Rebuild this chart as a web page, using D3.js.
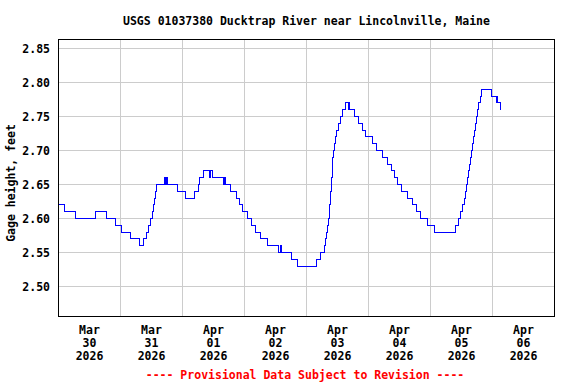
<!DOCTYPE html>
<html>
<head>
<meta charset="utf-8">
<script src="https://cdn.jsdelivr.net/npm/d3@7"></script>
<style>
  html, body { margin: 0; padding: 0; background: #ffffff; }
  svg { display: block; }
  text { font-family: "DejaVu Sans Mono", "Liberation Mono", monospace; font-weight: bold; }
</style>
</head>
<body>
<script>
// ---- data ----
const title = "USGS 01037380 Ducktrap River near Lincolnville, Maine";
const yLabel = "Gage height, feet";
const footer = "---- Provisional Data Subject to Revision ----";
const startDate = "2026-03-30T00:00:00";
const nDays = 8;
const yTicks = [2.50, 2.55, 2.60, 2.65, 2.70, 2.75, 2.80, 2.85];
const monthNames = ["Jan","Feb","Mar","Apr","May","Jun","Jul","Aug","Sep","Oct","Nov","Dec"];
// hours since 2026-03-30 00:00 at which the reading changes, and the reading (ft)
const hours = [
  0, 2.25, 6.75, 14.5, 18.5, 22, 24.25, 27.75, 31.5, 32.75,
  34, 35, 35.75, 36.25, 36.75, 37.25, 37.5, 38, 41, 41.5,
  41.75, 42.25, 46, 49, 52.5, 54.25, 54.75, 56, 58.5, 59,
  59.5, 63.75, 64.25, 64.5, 66.5, 68.75, 70, 71.25, 73, 74.75,
  76.25, 78, 80.75, 85.25, 85.75, 86.5, 90, 92.5, 99.75, 101.5,
  103, 103.25, 103.75, 104, 104.5, 104.75, 104.9, 105.1, 105.35, 105.6,
  105.75, 106, 106.15, 106.25, 106.5, 106.75, 107.15, 107.8, 108.45, 109,
  109.75, 111, 112.2, 112.5, 112.75, 114.5, 116.25, 117.75, 118.75, 121.5,
  123.25, 125.25, 127.25, 129, 130, 131.25, 132.75, 135.25, 137, 138.5,
  140.25, 142.75, 145.5, 153.5, 154.75, 155.75, 156.5, 157.25, 157.5, 158.08,
  158.47, 158.85, 159.24, 159.63, 160.01, 160.28, 160.59, 160.98, 161.29, 161.67,
  162.14, 162.72, 163.22, 163.88, 167.63, 169.55, 169.8, 169.95, 171.1
];
const gage = [
  2.62, 2.61, 2.60, 2.61, 2.60, 2.59, 2.58, 2.57, 2.56, 2.57,
  2.58, 2.59, 2.60, 2.61, 2.62, 2.63, 2.64, 2.65, 2.66, 2.65,
  2.66, 2.65, 2.64, 2.63, 2.64, 2.65, 2.66, 2.67, 2.66, 2.67,
  2.66, 2.65, 2.66, 2.65, 2.64, 2.63, 2.62, 2.61, 2.60, 2.59,
  2.58, 2.57, 2.56, 2.55, 2.56, 2.55, 2.54, 2.53, 2.54, 2.55,
  2.56, 2.57, 2.58, 2.59, 2.60, 2.61, 2.62, 2.63, 2.64, 2.65,
  2.66, 2.67, 2.68, 2.69, 2.70, 2.71, 2.72, 2.73, 2.74, 2.75,
  2.76, 2.77, 2.76, 2.77, 2.76, 2.75, 2.74, 2.73, 2.72, 2.71,
  2.70, 2.69, 2.68, 2.67, 2.66, 2.65, 2.64, 2.63, 2.62, 2.61,
  2.60, 2.59, 2.58, 2.59, 2.60, 2.61, 2.62, 2.63, 2.64, 2.65,
  2.66, 2.67, 2.68, 2.69, 2.70, 2.71, 2.72, 2.73, 2.74, 2.75,
  2.76, 2.77, 2.78, 2.79, 2.78, 2.77, 2.78, 2.77, 2.76
];

// ---- layout ----
const W = 576, H = 384;
const pL = 58.5, pR = 554.5, pT = 39.5, pB = 316.5;

const t0 = new Date(startDate);
const tEnd = d3.timeDay.offset(t0, nDays);
const x = d3.scaleTime().domain([t0, tEnd]).range([pL, pR]);
const y = d3.scaleLinear().domain([2.50, 2.85]).range([286.5, 48.5]);

const data = hours.map((h, i) => ({ t: new Date(t0.getTime() + h * 3600e3), v: gage[i] }));

const svg = d3.select("body").append("svg").attr("width", W).attr("height", H);

// gridlines
const dayTicks = d3.timeDay.range(d3.timeDay.offset(t0, 1), tEnd);
svg.append("g").selectAll("line").data(dayTicks).join("line")
  .attr("x1", d => Math.round(x(d) - 0.5) + 0.5).attr("x2", d => Math.round(x(d) - 0.5) + 0.5)
  .attr("y1", pT).attr("y2", pB)
  .attr("stroke", "#cccccc").attr("stroke-width", 1);
svg.append("g").selectAll("line").data(yTicks).join("line")
  .attr("x1", pL).attr("x2", pR)
  .attr("y1", d => Math.round(y(d) - 0.5) + 0.5).attr("y2", d => Math.round(y(d) - 0.5) + 0.5)
  .attr("stroke", "#cccccc").attr("stroke-width", 1);

// data line
const line = d3.line().x(d => x(d.t)).y(d => y(d.v)).curve(d3.curveStepAfter);
svg.append("path").datum(data)
  .attr("d", line)
  .attr("fill", "none").attr("stroke", "#0000ff").attr("stroke-width", 1)
  .attr("shape-rendering", "crispEdges");

// frame
svg.append("rect").attr("x", pL).attr("y", pT)
  .attr("width", pR - pL).attr("height", pB - pT)
  .attr("fill", "none").attr("stroke", "#000000").attr("stroke-width", 1)
  .attr("shape-rendering", "crispEdges");

// y tick labels
svg.append("g").selectAll("text").data(yTicks).join("text")
  .attr("x", 50).attr("y", d => y(d) + 4)
  .attr("text-anchor", "end").attr("font-size", "11.5px").attr("fill", "#000")
  .text(d3.format(".2f"));

// x labels (centered at noon of each day)
const days = d3.timeDay.range(t0, tEnd);
const xl = svg.append("g").selectAll("text").data(days).join("text")
  .attr("text-anchor", "middle").attr("font-size", "11.5px").attr("fill", "#000");
xl.each(function(d) {
  const cx = x(d3.timeHour.offset(d, 12));
  const sel = d3.select(this);
  const lines = [monthNames[d.getMonth()], d3.timeFormat("%d")(d), d3.timeFormat("%Y")(d)];
  lines.forEach((s, i) => {
    sel.append("tspan").attr("x", cx).attr("y", 334 + i * 13).text(s);
  });
});

// y axis title
svg.append("text")
  .attr("transform", "translate(15,183) rotate(-90)")
  .attr("text-anchor", "middle").attr("font-size", "11.5px").attr("fill", "#000")
  .text(yLabel);

// title
svg.append("text").attr("x", (pL + pR) / 2).attr("y", 24.5)
  .attr("text-anchor", "middle").attr("font-size", "11.5px").attr("fill", "#000")
  .text(title);

// footer
svg.append("text").attr("x", 305).attr("y", 378.5)
  .attr("text-anchor", "middle").attr("font-size", "11.5px").attr("fill", "#ff0000")
  .text(footer);
</script>
</body>
</html>
